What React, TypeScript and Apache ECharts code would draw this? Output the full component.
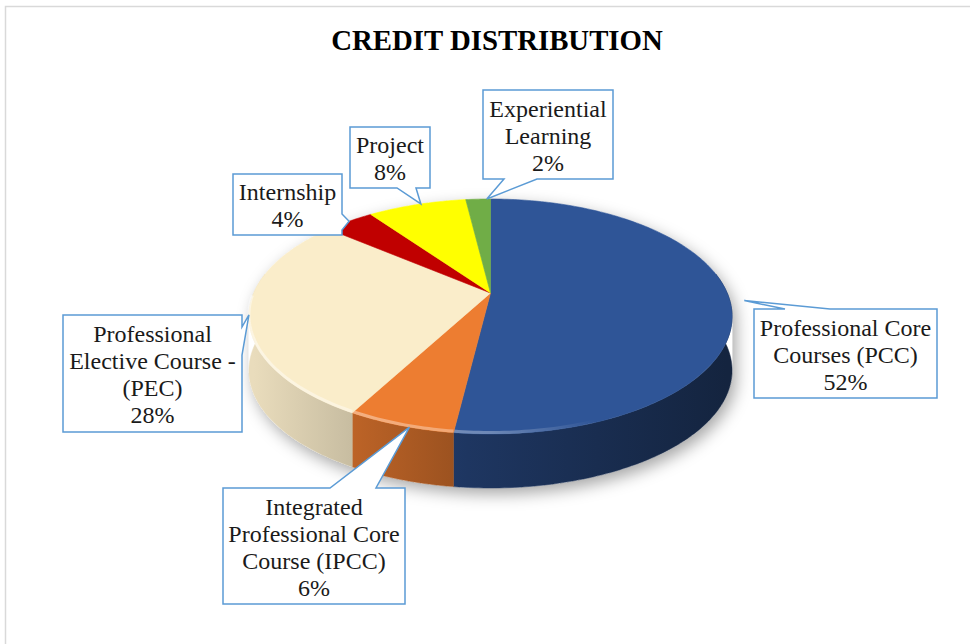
import React, { useEffect, useRef } from "react";
import * as echarts from "echarts";

// ---------- data ----------
const categories = [
  "Professional Core Courses (PCC)",
  "Integrated Professional Core Course (IPCC)",
  "Professional Elective Course - (PEC)",
  "Internship",
  "Project",
  "Experiential Learning",
];
const values = [52, 6, 28, 4, 8, 2];
const sliceColors = ["#2F5597", "#ED7D31", "#FAEDCA", "#C00000", "#FFFF00", "#70AD47"];
const labelLines = [
  ["Professional Core", "Courses (PCC)"],
  ["Integrated", "Professional Core", "Course (IPCC)"],
  ["Professional", "Elective Course -", "(PEC)"],
  ["Internship"],
  ["Project"],
  ["Experiential", "Learning"],
];
const chartTitle = "CREDIT DISTRIBUTION";

// ---------- layout ----------
const CX = 490.5;
const CY = 293;
const SX = 236.7;
const SY = 112.8;
const PERSP = 0.2;
const DEPTH = 54;
const FONT = '"Liberation Serif", "Times New Roman", serif';

const calloutBoxes = [
  [754, 309, 183, 89],
  [223, 488, 182, 116],
  [63, 315, 179, 117],
  [233, 174, 109, 61],
  [350, 127, 80, 61],
  [483, 90, 130, 89],
];
const calloutEdges: [string, number, number][] = [
  ["top", 785, 830],
  ["top", 330, 376],
  ["right", 327, 355],
  ["right", 214, 230],
  ["bottom", 397, 416],
  ["bottom", 504, 537],
];
const calloutTipPos = [
  [0.5, 1.06],
  [0.41, 1],
  [0.5, 1],
  [0.5, 1],
  [0.54, 1],
  [0.85, 1],
];

const total = values.reduce((a, b) => a + b, 0);
const starts: number[] = [];
{
  let acc = 0;
  values.forEach((v) => {
    starts.push(acc);
    acc += v;
  });
}
const DEG = Math.PI / 180;

function proj(theta: number, r = 1, dy = 0): number[] {
  const u = r * Math.sin(theta);
  const v = r * Math.cos(theta);
  const w = 1 + PERSP * v;
  return [CX + (SX * u) / w, CY - (SY * v) / w + dy];
}
function arc(a0: number, a1: number, dy = 0): number[][] {
  const n = Math.max(2, Math.ceil(Math.abs(a1 - a0) / DEG));
  const pts: number[][] = [];
  for (let k = 0; k <= n; k++) pts.push(proj(a0 + ((a1 - a0) * k) / n, 1, dy));
  return pts;
}
function shade(hex: string, f: number) {
  const n = parseInt(hex.slice(1), 16);
  const r = Math.min(255, Math.round(((n >> 16) & 255) * f));
  const g = Math.min(255, Math.round(((n >> 8) & 255) * f));
  const b = Math.min(255, Math.round((n & 255) * f));
  return `rgb(${r},${g},${b})`;
}
function sliceAngles(i: number, v: number) {
  return [(starts[i] / total) * 2 * Math.PI, ((starts[i] + v) / total) * 2 * Math.PI];
}

function calloutPoints(i: number, tip: number[]) {
  const [x, y, w, h] = calloutBoxes[i];
  const [edge, a, b] = calloutEdges[i];
  const pts: number[][] = [[x, y]];
  if (edge === "top") pts.push([a, y], tip, [b, y]);
  pts.push([x + w, y]);
  if (edge === "right") pts.push([x + w, a], tip, [x + w, b]);
  pts.push([x + w, y + h]);
  if (edge === "bottom") pts.push([b, y + h], tip, [a, y + h]);
  pts.push([x, y + h]);
  return pts;
}

export default function App() {
  const ref = useRef<HTMLDivElement>(null);
  useEffect(() => {
    if (!ref.current) return;
    const chart = echarts.init(ref.current, undefined, { renderer: "svg" });

    const silA = Math.acos(-PERSP); // silhouette angle
    const shadowPts = arc(-silA, silA).concat(arc(silA, 2 * Math.PI - silA, DEPTH));

    const graphics: any[] = [
      {
        type: "rect",
        z: 0,
        shape: { x: 5.5, y: 6.5, width: 1000, height: 700 },
        style: { fill: "#fff", stroke: "#D9D9D9", lineWidth: 1.5 },
      },
      {
        type: "text",
        z: 5,
        x: 497,
        y: 39.5,
        style: {
          text: chartTitle,
          font: `bold 28.8px ${FONT}`,
          fill: "#000",
          align: "center",
          verticalAlign: "middle",
          textAlign: "center",
          textVerticalAlign: "middle",
        },
      },
      {
        type: "polygon",
        z: 1,
        shape: { points: shadowPts },
        style: {
          fill: "#fff",
          shadowBlur: 16,
          shadowColor: "rgba(0,0,0,0.35)",
          shadowOffsetX: 4,
          shadowOffsetY: 6,
        },
      },
    ];

    values.forEach((v, i) => {
      const [a0, a1] = sliceAngles(i, v);
      const tf = calloutTipPos[i];
      const tip = proj(a0 + (a1 - a0) * tf[0], tf[1]);
      const [x, y, w, h] = calloutBoxes[i];
      graphics.push({
        type: "polygon",
        z: 50,
        shape: { points: calloutPoints(i, tip) },
        style: { fill: "#fff", stroke: "#5B9BD5", lineWidth: 1.5, lineJoin: "miter" },
      });
      graphics.push({
        type: "text",
        z: 51,
        x: x + w / 2,
        y: y + h / 2 + 1,
        style: {
          text: labelLines[i].concat([`${Math.round((v / total) * 100)}%`]).join("\n"),
          font: `24px ${FONT}`,
          lineHeight: 27,
          fill: "#1a1a1a",
          align: "center",
          verticalAlign: "middle",
          textAlign: "center",
          textVerticalAlign: "middle",
        },
      });
    });

    const sideGradient = (c: string) =>
      new echarts.graphic.LinearGradient(
        CX - SX,
        0,
        CX + SX,
        0,
        [
          { offset: 0, color: shade(c, 0.93) },
          { offset: 0.45, color: shade(c, 0.64) },
          { offset: 1, color: shade(c, 0.42) },
        ],
        true
      );
    const rimGradient = () =>
      new echarts.graphic.LinearGradient(
        CX - SX,
        0,
        CX + SX,
        0,
        [
          { offset: 0, color: "rgba(255,255,255,0.45)" },
          { offset: 0.5, color: "rgba(255,255,255,0.3)" },
          { offset: 0.72, color: "rgba(255,255,255,0)" },
          { offset: 1, color: "rgba(255,255,255,0)" },
        ],
        true
      );

    const option: any = {
      animation: false,
      backgroundColor: "#fff",
      graphic: { elements: graphics },
      series: [
        {
          type: "custom",
          name: "sides",
          coordinateSystem: "none",
          silent: true,
          z: 2,
          data: values.map((v, i) => ({ name: categories[i], value: [v] })),
          renderItem: (params: any, api: any) => {
            const i = params.dataIndex;
            const [a0, a1] = sliceAngles(i, api.value(0));
            const lo = Math.max(a0, 80 * DEG);
            const hi = Math.min(a1, 280 * DEG);
            if (hi <= lo) return { type: "group", children: [] };
            const top = arc(lo, hi);
            const bot = arc(lo, hi, DEPTH).reverse();
            return {
              type: "polygon",
              shape: { points: top.concat(bot) },
              style: { fill: sideGradient(sliceColors[i]), stroke: sideGradient(sliceColors[i]), lineWidth: 0.5 },
            };
          },
        },
        {
          type: "custom",
          name: "tops",
          coordinateSystem: "none",
          silent: true,
          z: 3,
          data: values.map((v, i) => ({ name: categories[i], value: [v] })),
          renderItem: (params: any, api: any) => {
            const i = params.dataIndex;
            const [a0, a1] = sliceAngles(i, api.value(0));
            const pts = [proj(0, 0)].concat(arc(a0, a1));
            const children: any[] = [
              {
                type: "polygon",
                shape: { points: pts },
                style: { fill: sliceColors[i], stroke: sliceColors[i], lineWidth: 0.6 },
              },
            ];
            const lo = Math.max(a0, 140 * DEG);
            const hi = Math.min(a1, 268 * DEG);
            if (hi > lo) {
              children.push({
                type: "polyline",
                shape: { points: arc(lo, hi, -1.5) },
                style: { fill: null, stroke: rimGradient(), lineWidth: 3 },
              });
            }
            return { type: "group", children };
          },
        },
      ],
    };
    chart.setOption(option);
    return () => chart.dispose();
  }, []);
  return (
    <div
      ref={ref}
      style={{ position: "fixed", left: 0, top: 0, width: 970, height: 644, background: "#fff" }}
    />
  );
}
